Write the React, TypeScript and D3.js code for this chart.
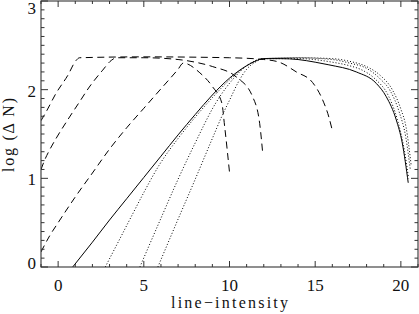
import * as d3 from 'd3'

const width = 419,
      height = 314,
      margin = { top: 1, right: 1, bottom: 47, left: 41 }

// curves of growth: [line-intensity, log(ΔN)]
const solidPts = [[0.85, 0], [2, 0.28], [3, 0.53], [4, 0.77], [5, 1.01], [6, 1.25], [7, 1.49], [8, 1.72], [9, 1.94], [10, 2.13], [11, 2.27], [11.5, 2.32], [12, 2.35], [13, 2.35], [14, 2.34], [15, 2.31], [15.8, 2.28], [17.4, 2.2], [18.57, 2.07], [19.15, 1.92], [19.73, 1.66], [20.08, 1.4], [20.43, 0.95]]

const dotted1 = [[2.75, 0], [3.5, 0.28], [4.3, 0.58], [5, 0.84], [5.9, 1.15], [7, 1.45], [8, 1.69], [9, 1.91], [10, 2.11], [11, 2.27], [12, 2.35], [14, 2.35], [16, 2.31], [17, 2.27], [17.75, 2.22], [18.5, 2.12], [19.3, 1.92], [19.8, 1.66], [20.2, 1.32], [20.45, 1.0]]
const dotted2 = [[4.77, 0], [6, 0.55], [7, 0.99], [8, 1.4], [9.2, 1.85], [10.3, 2.14], [11, 2.27], [12, 2.35], [14, 2.36], [16, 2.34], [17, 2.3], [18, 2.24], [18.8, 2.12], [19.4, 1.98], [19.9, 1.75], [20.3, 1.45], [20.55, 1.1]]
const dotted3 = [[5.82, 0], [7, 0.54], [8, 0.99], [9, 1.45], [9.6, 1.72], [10, 1.88], [10.5, 2.08], [11, 2.23], [11.5, 2.31], [12, 2.35], [14, 2.36], [16, 2.35], [17, 2.32], [18, 2.26], [18.8, 2.16], [19.5, 2.0], [20, 1.78], [20.3, 1.58], [20.6, 1.15]]

const dashedA = [[-1, 1.65], [-0.7, 1.75], [-0.12, 1.96], [0.56, 2.16], [1.05, 2.33], [1.25, 2.36], [5, 2.37], [10, 2.36], [12, 2.34], [12.9, 2.31], [13.9, 2.2], [14.85, 2.08], [15.4, 1.9], [15.8, 1.69], [16.0, 1.54]]
const dashedB = [[-1, 1.1], [-0.8, 1.2], [-0.5, 1.32], [-0.12, 1.45], [0.56, 1.66], [1.24, 1.86], [1.82, 2.03], [2.6, 2.22], [3.1, 2.33], [3.4, 2.36], [5, 2.36], [7, 2.34], [8, 2.31], [9.02, 2.26], [10.42, 2.14], [11.35, 1.92], [11.76, 1.62], [11.93, 1.3]]
const dashedC = [[-1, 0.17], [-0.5, 0.35], [0, 0.5], [1, 0.79], [2, 1.06], [3, 1.33], [4, 1.57], [5, 1.79], [6, 2.01], [7, 2.23], [7.3, 2.3], [8.27, 2.19], [9.02, 2.03], [9.55, 1.85], [9.72, 1.58], [10.01, 1.05]]

const xTicks = [0, 5, 10, 15, 20]
const yTicks = [0, 1, 2, 3]

const series = [
  { pts: solidPts, dash: null },
  { pts: dotted1, dash: '1,2' },
  { pts: dotted2, dash: '1,2' },
  { pts: dotted3, dash: '1,2' },
  { pts: dashedA, dash: '7,4.5' },
  { pts: dashedB, dash: '7,4.5' },
  { pts: dashedC, dash: '7,4.5' },
]

const serif = 'Liberation Serif, DejaVu Serif, serif'

export default function App() {
  const innerW = width - margin.left - margin.right
  const innerH = height - margin.top - margin.bottom

  const x = d3.scaleLinear().domain([-1, 21]).range([0, innerW])
  const y = d3.scaleLinear().domain([0, 3]).range([innerH, 0])

  const line = d3.line<number[]>()
    .x(d => x(d[0]))
    .y(d => y(d[1]))
    .curve(d3.curveMonotoneX)

  const xMinor = d3.range(-1, 22, 1)
  const yMinor = d3.range(0, 3.0001, 0.1)

  return (
    <svg width={width} height={height} style={{ position: 'absolute', left: 0, top: 0, background: '#fff' }}>
      <defs>
        <clipPath id='plotclip'>
          <rect x={0} y={0} width={innerW} height={innerH} />
        </clipPath>
      </defs>
      <g transform={`translate(${margin.left}, ${margin.top})`}>
        <g clipPath='url(#plotclip)'>
          {series.map((s, i) => (
            <path
              key={i}
              d={line(s.pts) || ''}
              fill='none'
              stroke='#000'
              strokeWidth={1}
              strokeDasharray={s.dash || undefined}
            />
          ))}
        </g>

        <rect x={0} y={0} width={innerW} height={innerH} fill='none' stroke='#333' strokeWidth={1.1} />

        {/* x ticks, bottom and top */}
        {xMinor.map(v => {
          const len = v % 5 === 0 ? 6 : 3
          return (
            <g key={'x' + v} stroke='#333' strokeWidth={1}>
              <line x1={x(v)} x2={x(v)} y1={innerH} y2={innerH - len} />
              <line x1={x(v)} x2={x(v)} y1={0} y2={len} />
            </g>
          )
        })}

        {/* y ticks, left and right */}
        {yMinor.map((v, i) => {
          const len = i % 10 === 0 ? 7 : 3.5
          return (
            <g key={'y' + i} stroke='#333' strokeWidth={1}>
              <line x1={0} x2={len} y1={y(v)} y2={y(v)} />
              <line x1={innerW} x2={innerW - len} y1={y(v)} y2={y(v)} />
            </g>
          )
        })}

        {xTicks.map(v => (
          <text key={'xl' + v} x={x(v)} y={innerH + 24} textAnchor='middle'
            style={{ fontFamily: serif }} fontSize={17} fill='#111'>{v}</text>
        ))}

        {yTicks.map(v => (
          <text key={'yl' + v} x={-5} y={Math.min(Math.max(y(v) + 1.5, 7), innerH - 4)}
            textAnchor='end' dominantBaseline='central'
            style={{ fontFamily: serif }} fontSize={17} fill='#111'>{v}</text>
        ))}

        <text x={innerW / 2} y={innerH + 41} textAnchor='middle'
          textLength={117} lengthAdjust='spacing'
          style={{ fontFamily: serif }} fontSize={16} fill='#111'>line−intensity</text>

        <text transform={`translate(${-27}, ${134}) rotate(-90)`} textAnchor='middle'
          textLength={74} lengthAdjust='spacing'
          style={{ fontFamily: serif }} fontSize={16} fill='#111'>log (Δ N)</text>
      </g>
    </svg>
  )
}
